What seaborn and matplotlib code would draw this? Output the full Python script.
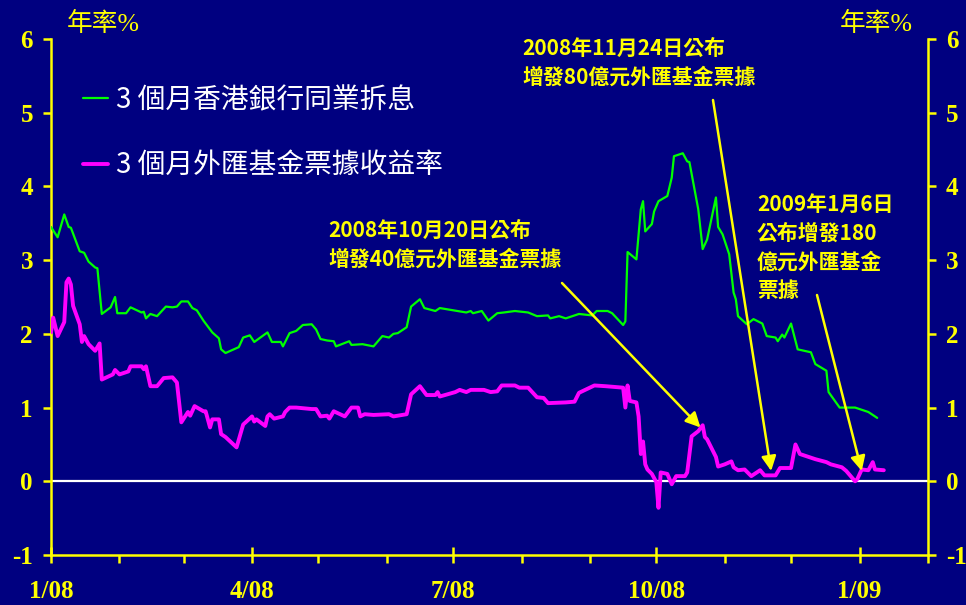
import pandas as pd
import matplotlib.pyplot as plt
import matplotlib.dates as mdates
import seaborn as sns

# 3-month HIBOR (green)
hibor_dates = [
    '2008-01-01', '2008-01-04', '2008-01-07', '2008-01-09', '2008-01-10', '2008-01-14', '2008-01-16', '2008-01-18',
    '2008-01-21', '2008-01-22', '2008-01-24', '2008-01-28', '2008-01-30', '2008-01-31', '2008-02-04', '2008-02-06',
    '2008-02-11', '2008-02-12', '2008-02-13', '2008-02-15', '2008-02-18', '2008-02-22', '2008-02-25', '2008-02-27',
    '2008-02-29', '2008-03-03', '2008-03-05', '2008-03-07', '2008-03-10', '2008-03-14', '2008-03-17', '2008-03-18',
    '2008-03-20', '2008-03-26', '2008-03-28', '2008-03-31', '2008-04-02', '2008-04-08', '2008-04-10', '2008-04-14',
    '2008-04-15', '2008-04-18', '2008-04-21', '2008-04-24', '2008-04-28', '2008-04-30', '2008-05-02', '2008-05-05',
    '2008-05-08', '2008-05-09', '2008-05-15', '2008-05-16', '2008-05-21', '2008-05-26', '2008-05-30', '2008-06-02',
    '2008-06-04', '2008-06-06', '2008-06-10', '2008-06-12', '2008-06-16', '2008-06-18', '2008-06-23', '2008-06-25',
    '2008-07-03', '2008-07-07', '2008-07-09', '2008-07-10', '2008-07-14', '2008-07-17', '2008-07-21', '2008-07-24',
    '2008-07-29', '2008-08-04', '2008-08-08', '2008-08-13', '2008-08-14', '2008-08-18', '2008-08-21', '2008-08-27',
    '2008-09-02', '2008-09-04', '2008-09-09', '2008-09-11', '2008-09-16', '2008-09-17', '2008-09-18', '2008-09-22',
    '2008-09-24', '2008-09-25', '2008-09-26', '2008-09-29', '2008-09-30', '2008-10-02', '2008-10-06', '2008-10-08',
    '2008-10-09', '2008-10-13', '2008-10-15', '2008-10-16', '2008-10-20', '2008-10-22', '2008-10-24', '2008-10-28',
    '2008-10-29', '2008-10-31', '2008-11-03', '2008-11-05', '2008-11-06', '2008-11-07', '2008-11-11', '2008-11-14',
    '2008-11-18', '2008-11-20', '2008-11-24', '2008-11-25', '2008-11-27', '2008-11-28', '2008-12-01', '2008-12-04',
    '2008-12-10', '2008-12-12', '2008-12-17', '2008-12-18', '2008-12-23', '2008-12-30', '2009-01-05', '2009-01-09',
]
hibor_vals = [
    3.45, 3.31, 3.62, 3.45, 3.44, 3.12, 3.10, 2.98,
    2.90, 2.89, 2.27, 2.36, 2.50, 2.28, 2.28, 2.36,
    2.29, 2.30, 2.21, 2.27, 2.24, 2.37, 2.36, 2.37,
    2.44, 2.44, 2.35, 2.32, 2.18, 2.02, 1.94, 1.79,
    1.74, 1.82, 1.95, 1.98, 1.89, 2.02, 1.89, 1.89,
    1.83, 2.01, 2.04, 2.12, 2.13, 2.06, 1.93, 1.91,
    1.90, 1.83, 1.90, 1.85, 1.86, 1.83, 1.97, 1.95,
    2.00, 2.01, 2.09, 2.37, 2.47, 2.35, 2.31, 2.35,
    2.31, 2.29, 2.31, 2.28, 2.31, 2.18, 2.28, 2.29,
    2.31, 2.29, 2.24, 2.25, 2.21, 2.24, 2.21, 2.27,
    2.25, 2.31, 2.31, 2.28, 2.12, 2.17, 3.11, 3.01,
    3.69, 3.80, 3.39, 3.49, 3.66, 3.80, 3.87, 4.12,
    4.41, 4.45, 4.34, 4.33, 3.69, 3.15, 3.28, 3.85,
    3.45, 3.35, 3.08, 2.56, 2.47, 2.24, 2.13, 2.20,
    2.14, 1.97, 1.95, 1.90, 1.99, 1.95, 2.14, 1.79,
    1.75, 1.59, 1.50, 1.21, 1.00, 1.00, 0.94, 0.86,
]

# 3-month Exchange Fund Bills yield (magenta)
efb_dates = [
    '2008-01-01', '2008-01-02', '2008-01-04', '2008-01-07', '2008-01-08', '2008-01-09', '2008-01-10', '2008-01-11',
    '2008-01-14', '2008-01-15', '2008-01-16', '2008-01-18', '2008-01-21', '2008-01-23', '2008-01-24', '2008-01-29',
    '2008-01-30', '2008-02-01', '2008-02-05', '2008-02-06', '2008-02-11', '2008-02-12', '2008-02-13', '2008-02-15',
    '2008-02-18', '2008-02-21', '2008-02-25', '2008-02-27', '2008-02-29', '2008-03-03', '2008-03-04', '2008-03-06',
    '2008-03-10', '2008-03-11', '2008-03-13', '2008-03-14', '2008-03-17', '2008-03-18', '2008-03-20', '2008-03-25',
    '2008-03-28', '2008-04-01', '2008-04-02', '2008-04-03', '2008-04-07', '2008-04-08', '2008-04-09', '2008-04-11',
    '2008-04-15', '2008-04-16', '2008-04-18', '2008-04-21', '2008-04-28', '2008-04-30', '2008-05-02', '2008-05-05',
    '2008-05-06', '2008-05-08', '2008-05-13', '2008-05-16', '2008-05-19', '2008-05-20', '2008-05-22', '2008-05-26',
    '2008-06-02', '2008-06-04', '2008-06-10', '2008-06-12', '2008-06-16', '2008-06-19', '2008-06-23', '2008-06-24',
    '2008-06-25', '2008-07-02', '2008-07-04', '2008-07-07', '2008-07-09', '2008-07-15', '2008-07-18', '2008-07-21',
    '2008-07-23', '2008-07-29', '2008-07-31', '2008-08-04', '2008-08-08', '2008-08-11', '2008-08-13', '2008-08-21',
    '2008-08-25', '2008-08-27', '2008-09-03', '2008-09-08', '2008-09-16', '2008-09-17', '2008-09-18', '2008-09-19',
    '2008-09-22', '2008-09-23', '2008-09-24', '2008-09-25', '2008-09-26', '2008-09-27', '2008-09-29', '2008-10-01',
    '2008-10-02', '2008-10-03', '2008-10-06', '2008-10-08', '2008-10-10', '2008-10-14', '2008-10-15', '2008-10-17',
    '2008-10-20', '2008-10-21', '2008-10-22', '2008-10-23', '2008-10-24', '2008-10-28', '2008-10-29', '2008-11-01',
    '2008-11-04', '2008-11-05', '2008-11-07', '2008-11-10', '2008-11-13', '2008-11-17', '2008-11-19', '2008-11-24',
    '2008-11-26', '2008-12-01', '2008-12-03', '2008-12-05', '2008-12-12', '2008-12-17', '2008-12-19', '2008-12-24',
    '2008-12-26', '2008-12-30', '2008-12-31', '2009-01-02', '2009-01-05', '2009-01-07', '2009-01-08', '2009-01-12',
]
efb_vals = [
    2.02, 2.22, 1.97, 2.16, 2.70, 2.75, 2.67, 2.38,
    2.13, 1.89, 1.97, 1.86, 1.77, 1.87, 1.38, 1.45,
    1.51, 1.45, 1.49, 1.56, 1.56, 1.52, 1.56, 1.29,
    1.29, 1.40, 1.41, 1.34, 0.80, 0.94, 0.89, 1.02,
    0.95, 0.95, 0.73, 0.84, 0.84, 0.64, 0.60, 0.46,
    0.77, 0.88, 0.81, 0.84, 0.75, 0.88, 0.91, 0.85,
    0.88, 0.94, 1.00, 1.00, 0.98, 0.98, 0.88, 0.89,
    0.85, 0.95, 0.88, 1.00, 1.00, 0.88, 0.91, 0.90,
    0.91, 0.88, 0.91, 1.18, 1.29, 1.17, 1.17, 1.21,
    1.15, 1.21, 1.24, 1.21, 1.24, 1.24, 1.21, 1.22,
    1.30, 1.30, 1.27, 1.27, 1.14, 1.13, 1.06, 1.07,
    1.08, 1.20, 1.30, 1.29, 1.27, 1.00, 1.30, 1.09,
    1.07, 0.88, 0.37, 0.54, 0.23, 0.16, 0.10, -0.01,
    -0.36, 0.12, 0.10, -0.04, 0.07, 0.07, 0.12, 0.61,
    0.68, 0.72, 0.76, 0.60, 0.57, 0.33, 0.20, 0.23,
    0.27, 0.19, 0.15, 0.16, 0.07, 0.15, 0.08, 0.08,
    0.18, 0.18, 0.50, 0.37, 0.30, 0.26, 0.23, 0.19,
    0.14, 0.00, 0.03, 0.16, 0.15, 0.26, 0.16, 0.15,
]

series_labels = ['3 個月香港銀行同業拆息', '3 個月外匯基金票據收益率']

# announcements: where the arrows point
ann_dates = ['2008-10-21', '2008-11-22', '2009-01-02']
ann_vals = [0.73, 0.14, 0.14]
ann_texts = [
    '2008年10月20日公布\n增發40億元外匯基金票據',
    '2008年11月24日公布\n增發80億元外匯基金票據',
    '2009年1月6日\n公布增發180\n億元外匯基金\n票據',
]

sns.set_theme(style='ticks')
plt.rcParams['font.family'] = ['Liberation Serif', 'Noto Sans CJK TC', 'DejaVu Sans']
plt.rcParams['axes.unicode_minus'] = False

navy = '#000080'
yellow = '#FFFF00'
W, H = 966, 605

fig = plt.figure(figsize=(W / 100, H / 100), dpi=100, facecolor=navy)
ax = fig.add_axes([51 / W, 1 - 555 / H, (928 - 51) / W, (555 - 39) / H])
ax.set_facecolor(navy)

hibor = pd.DataFrame({'date': pd.to_datetime(hibor_dates), 'rate': hibor_vals})
efb = pd.DataFrame({'date': pd.to_datetime(efb_dates), 'rate': efb_vals})

ax.axhline(0, color='white', lw=1.6, zorder=1)
sns.lineplot(data=hibor, x='date', y='rate', color='#00FF00', lw=1.6,
             label=series_labels[0], ax=ax, zorder=3)
sns.lineplot(data=efb, x='date', y='rate', color='#FF00FF', lw=2.8,
             label=series_labels[1], ax=ax, zorder=3)

ax.set_xlim(pd.Timestamp('2008-01-01'), pd.Timestamp('2009-02-01'))
ax.set_ylim(-1, 6)
ax.set_yticks(range(-1, 7))
ax.set_xlabel('')
ax.set_ylabel('')
ax.grid(False)

ax.xaxis.set_major_locator(mdates.MonthLocator(bymonth=[1, 4, 7, 10]))
ax.xaxis.set_major_formatter(mdates.DateFormatter('%-m/%y'))
ax.xaxis.set_minor_locator(mdates.MonthLocator())

for side in ['left', 'right', 'bottom']:
    ax.spines[side].set_color(yellow)
    ax.spines[side].set_linewidth(1.8)
ax.spines['top'].set_visible(False)

ax.tick_params(axis='x', which='major', direction='inout', length=11.5, width=1.8,
               color=yellow, labelcolor=yellow, labelsize=18, pad=12)
ax.tick_params(axis='x', which='minor', direction='out', length=5.8, width=1.8,
               color=yellow)
ax.tick_params(axis='y', direction='out', length=6, width=1.8, color=yellow,
               labelcolor=yellow, labelsize=18, pad=7,
               left=True, right=True, labelleft=True, labelright=True)
for lbl in ax.get_xticklabels():
    lbl.set_fontweight('bold')
for t in ax.yaxis.get_major_ticks():
    t.label1.set_fontweight('bold')
    t.label2.set_fontweight('bold')

leg = ax.legend(loc='upper left', bbox_to_anchor=(83 / W, 1 - 85 / H),
                bbox_transform=fig.transFigure, frameon=False,
                prop={'family': 'Noto Sans CJK TC', 'size': 20},
                handlelength=0.9, handletextpad=0.3, labelspacing=1.27,
                borderpad=0, borderaxespad=0)
for txt in leg.get_texts():
    txt.set_color('white')

unit_font = ['Liberation Serif', 'Noto Sans CJK TC']
fig.text(67 / W, 1 - 24 / H, '年率%', color=yellow, fontsize=18.5, family=unit_font,
         va='center', ha='left')
fig.text(913 / W, 1 - 24 / H, '年率%', color=yellow, fontsize=18.5, family=unit_font,
         va='center', ha='right')

text_pos = [(328, 220), (522, 38), (757, 194)]
arrow_start = [(562, 283), (713, 100), (817, 295)]
for txt, (tx, ty), (sx, sy), d, v in zip(ann_texts, text_pos, arrow_start, ann_dates, ann_vals):
    fig.text(tx / W, 1 - ty / H, txt, color=yellow, fontsize=15, fontweight='bold',
             family='Noto Sans CJK TC', va='top', ha='left', linespacing=1.45)
    ax.annotate('', xy=(mdates.date2num(pd.Timestamp(d)), v), xycoords='data',
                xytext=(sx / W, 1 - sy / H), textcoords='figure fraction',
                arrowprops=dict(arrowstyle='-|>', color=yellow, lw=1.8,
                                mutation_scale=22, shrinkA=0, shrinkB=0),
                zorder=4)

fig.savefig('out.png', dpi=100, facecolor=navy)
